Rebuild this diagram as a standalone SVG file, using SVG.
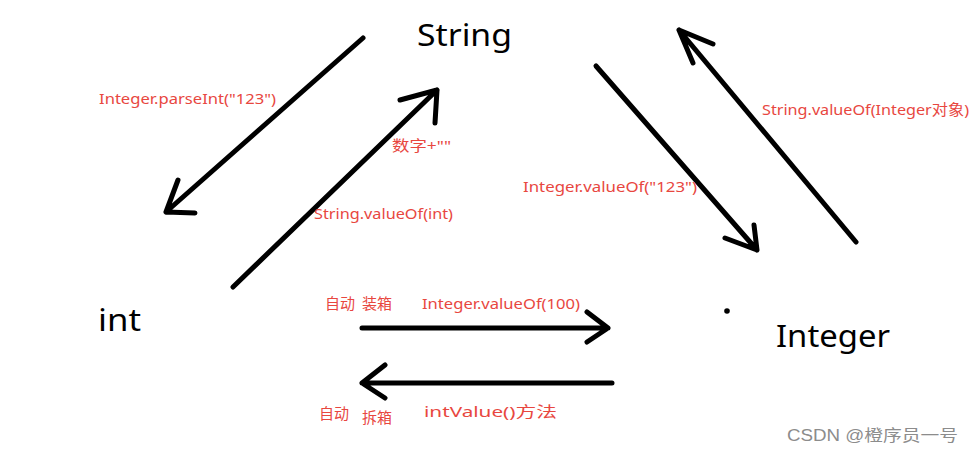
<svg xmlns="http://www.w3.org/2000/svg" width="973" height="453" viewBox="0 0 973 453">
<style>
.conn{stroke:#000;stroke-width:5;fill:none;stroke-linecap:round;stroke-linejoin:round}
.big{font-family:"Noto Sans","Open Sans",sans-serif;font-size:31px;fill:#000}
.lbl{font-family:"Noto Sans","Noto Sans CJK SC",sans-serif;font-size:15px;fill:#e8473f}
.wm{font-family:"Liberation Sans","Noto Sans CJK SC",sans-serif;font-size:16px;fill:#8c8c8c}
</style>
<rect width="973" height="453" fill="#fff"/>
<g id="node-string"><text class="big" x="417" y="46" textLength="95" lengthAdjust="spacingAndGlyphs">String</text></g>
<g id="node-int"><text class="big" x="98" y="331" textLength="43" lengthAdjust="spacingAndGlyphs">int</text></g>
<g id="node-integer"><text class="big" x="776" y="347" textLength="114" lengthAdjust="spacingAndGlyphs">Integer</text><circle cx="727" cy="311" r="2.8" fill="#000"/></g>
<g id="connectors">
<path class="conn" d="M363,38 L166,212 M178,180 L166,212 L195,213"/>
<path class="conn" d="M233,287 L437,90 M400,100 L437,90 L435,123"/>
<path class="conn" d="M596,66 L757,250 M725,238 L757,250 L754,225"/>
<path class="conn" d="M856,242 L679,30 M713,44 L679,30 L693,63"/>
<path class="conn" d="M362,328 L608,328 M587,312 L608,328 L587,342"/>
<path class="conn" d="M612,383 L362,383 M385,365 L362,383 L385,398"/>
</g>
<g id="labels">
<text class="lbl" x="99" y="104" textLength="177" lengthAdjust="spacingAndGlyphs">Integer.parseInt("123")</text>
<text class="lbl" x="392" y="151" textLength="59" lengthAdjust="spacingAndGlyphs">数字+""</text>
<text class="lbl" x="314" y="219" textLength="139" lengthAdjust="spacingAndGlyphs">String.valueOf(int)</text>
<text class="lbl" x="523" y="192" textLength="174" lengthAdjust="spacingAndGlyphs">Integer.valueOf("123")</text>
<text class="lbl" x="762" y="115" textLength="207" lengthAdjust="spacingAndGlyphs">String.valueOf(Integer对象)</text>
<text class="lbl" x="325" y="309">自动</text>
<text class="lbl" x="362" y="309">装箱</text>
<text class="lbl" x="422" y="309" textLength="158" lengthAdjust="spacingAndGlyphs">Integer.valueOf(100)</text>
<text class="lbl" x="319" y="419">自动</text>
<text class="lbl" x="362" y="423">拆箱</text>
<text class="lbl" x="424" y="417" textLength="133" lengthAdjust="spacingAndGlyphs">intValue()方法</text>
</g>
<text class="wm" x="787" y="441" textLength="171" lengthAdjust="spacingAndGlyphs">CSDN @橙序员一号</text>
</svg>
